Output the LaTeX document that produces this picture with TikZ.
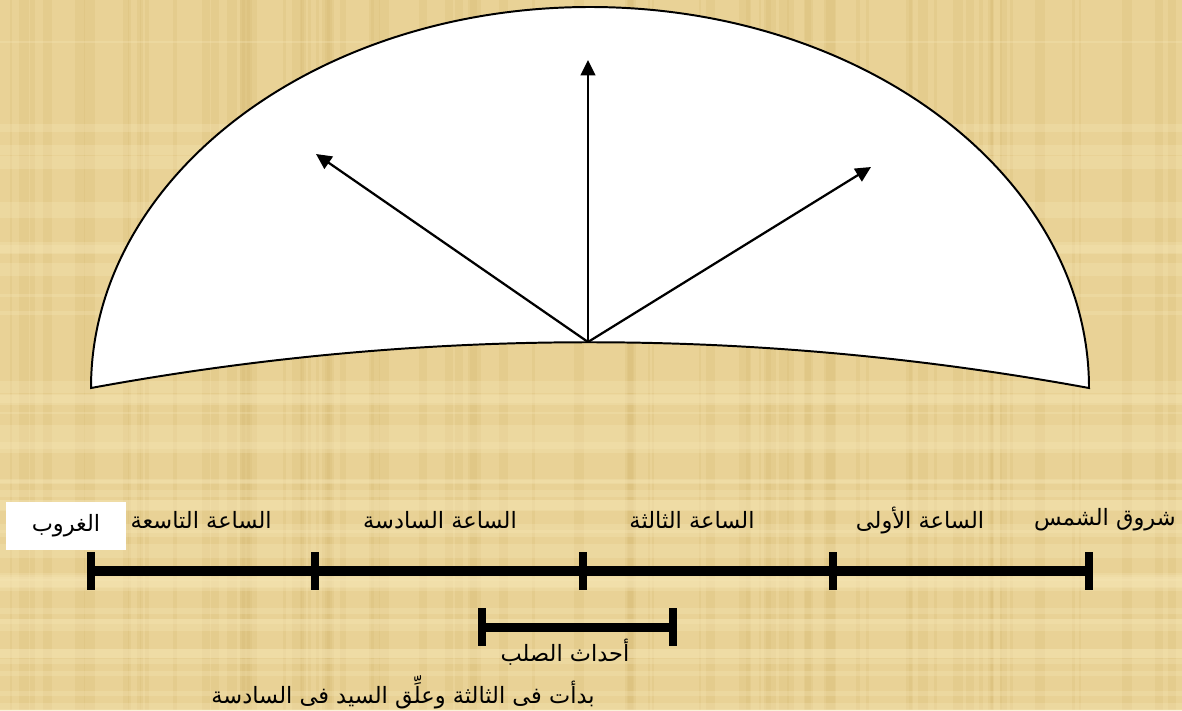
\documentclass[tikz,border=0pt]{standalone}
\usepackage{fontspec}
\newfontfamily\arabicfont[Script=Arabic]{DejaVu Sans}
\TeXXeTstate=1
\usetikzlibrary{arrows.meta}

\definecolor{papyrus}{RGB}{233,210,150}
\definecolor{papyrusdark}{RGB}{212,184,112}
\definecolor{papyruslight}{RGB}{246,230,182}
\newcommand{\artext}[1]{\beginR #1\endR}

\begin{document}
\begin{tikzpicture}[
    x=0.025cm, y=-0.025cm,
    %% sky styles
    dome/.style={draw=black, line width=1.4pt, fill=white},
    ray/.style={-{Triangle[length=11pt, width=10.5pt]}, line width=1.6pt},
    %% timeline styles
    bar/.style={line width=7.8pt},
    barend/.style={line width=5.6pt},
    spanbar/.style={line width=6.4pt},
    %% label styles
    lbl/.style={font=\arabicfont\fontsize{16}{18}\selectfont, inner sep=0pt}
]

    %% --- papyrus background -----------------------------------
    \useasboundingbox (0,0) rectangle (1182,710);
    \fill[papyrus] (0,0) rectangle (1182,710);
    \pgfmathsetseed{17}
    \foreach \i in {1,...,80} {
        \pgfmathsetmacro\px{rnd*1182}
        \pgfmathsetmacro\pw{2+rnd*9}
        \fill[papyrusdark, opacity=0.22] (\px,0) rectangle ++(\pw,710);
    }
    \foreach \i in {1,...,40} {
        \pgfmathsetmacro\py{rnd*710}
        \pgfmathsetmacro\ph{2+rnd*12}
        \fill[papyruslight, opacity=0.3] (0,\py) rectangle ++(1182,\ph);
    }

    %% --- sky dome ---------------------------------------------
    \draw[dome] (91,388) .. controls (91,178) and (314,7) .. (590,7)
        .. controls (866,7) and (1089,178) .. (1089,388)
        .. controls (756,327) and (422,327) .. (91,388) -- cycle;

    \coordinate (hub)  at (588,342);
    \coordinate (noon) at (588,60);
    \coordinate (west) at (316,154);
    \coordinate (east) at (871,167);

    \draw[ray] (hub) -- (noon);
    \draw[ray] (hub) -- (west);
    \draw[ray] (hub) -- (east);

    %% --- day timeline -----------------------------------------
    \coordinate (mark0) at (91,571);
    \coordinate (mark1) at (315,571);
    \coordinate (mark2) at (583,571);
    \coordinate (mark3) at (833,571);
    \coordinate (mark4) at (1089,571);

    \draw[bar] (mark0) -- (mark4);
    \foreach \m in {0,...,4}
        \draw[barend] ([yshift=13.2pt]mark\m) -- ([yshift=-13.2pt]mark\m);

    \node[lbl, anchor=east] (sunrise) at (1176,520) {\artext{شروق الشمس}};
    \node[lbl] (first)   at (920,520)  {\artext{الساعة الأولى}};
    \node[lbl] (third)   at (692,520)  {\artext{الساعة الثالثة}};
    \node[lbl] (sixth)   at (440,520)  {\artext{الساعة السادسة}};
    \node[lbl, anchor=east] (ninth) at (272,520) {\artext{الساعة التاسعة}};
    \node[lbl, fill=white, minimum width=86pt, minimum height=34pt]
        (sunset) at (66,526) {\artext{الغروب}};

    %% --- crucifixion span -------------------------------------
    \coordinate (start)  at (482,627);
    \coordinate (finish) at (673,627);

    \draw[spanbar] (start) -- (finish);
    \draw[barend] ([yshift=13.5pt]start) -- ([yshift=-13.5pt]start);
    \draw[barend] ([yshift=13.5pt]finish) -- ([yshift=-13.5pt]finish);

    \node[lbl] (events) at (565,652) {\artext{أحداث الصلب}};
    \node[lbl] (note)   at (403,692) {\artext{بدأت فى الثالثة وعلِّق السيد فى السادسة}};

\end{tikzpicture}
\end{document}
